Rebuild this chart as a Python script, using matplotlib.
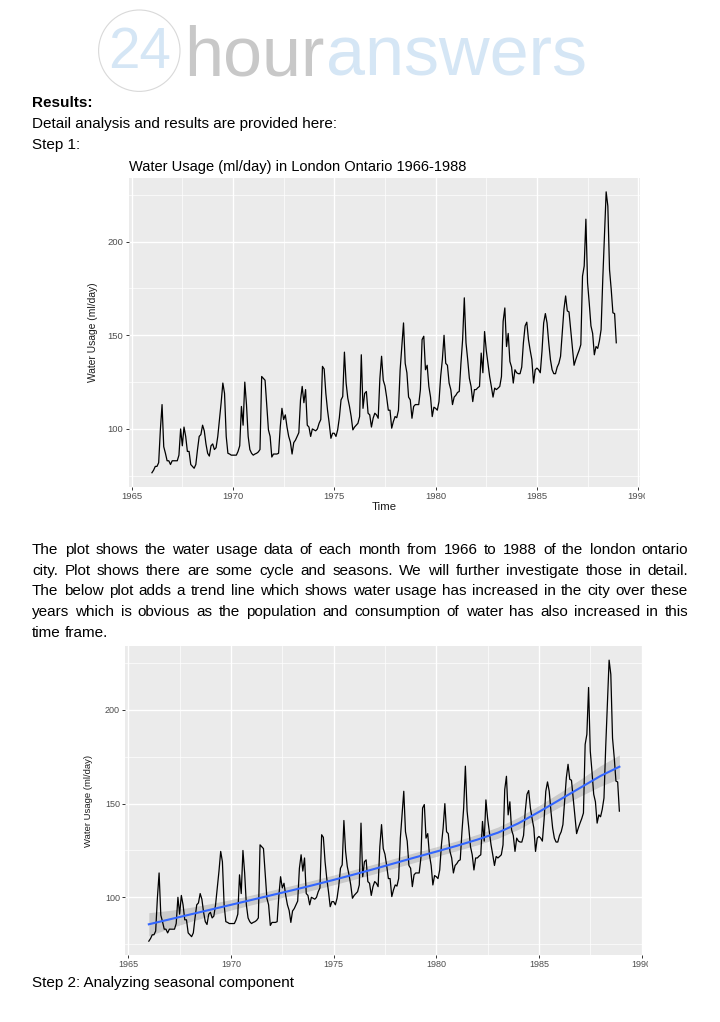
import numpy as np
import matplotlib
matplotlib.use("Agg")
import matplotlib.pyplot as plt
from matplotlib.patches import Circle, Rectangle
from matplotlib.ticker import MultipleLocator, FuncFormatter

plt.rcParams['font.family'] = ['Liberation Sans', 'DejaVu Sans']

W, H = 720, 1022

# monthly water usage (ml/day), London Ontario
usage_1966 = [76.6, 78.0, 80.0, 80.0, 82.0, 99.5, 113.0, 90.5, 87.0, 83.0, 83.0, 81.0]
usage_1967 = [83.0, 83.0, 83.0, 83.0, 86.0, 100.0, 91.0, 101.0, 96.0, 88.0, 88.0, 81.0]
usage_1968 = [80.0, 79.0, 81.0, 89.0, 96.0, 97.0, 102.0, 99.0, 92.0, 87.0, 85.5, 91.0]
usage_1969 = [92.0, 89.0, 90.0, 96.0, 105.0, 114.0, 124.5, 119.0, 96.0, 87.0, 86.6, 86.0]
usage_1970 = [86.0, 86.0, 86.0, 88.0, 91.0, 112.0, 102.0, 125.0, 113.0, 96.0, 89.0, 87.0]
usage_1971 = [86.0, 86.6, 87.0, 87.7, 89.0, 128.0, 127.0, 126.0, 113.0, 99.5, 96.0, 85.0]
usage_1972 = [86.6, 86.6, 86.6, 87.0, 101.0, 111.0, 105.0, 107.5, 101.0, 96.0, 93.0, 86.6]
usage_1973 = [92.7, 94.0, 96.0, 98.0, 115.5, 122.7, 114.0, 121.0, 102.0, 101.0, 96.0, 100.0]
usage_1974 = [99.5, 99.0, 100.0, 103.0, 105.0, 133.4, 132.0, 119.0, 110.0, 103.0, 95.0, 97.7]
usage_1975 = [97.7, 96.0, 99.5, 106.0, 115.5, 117.3, 141.0, 124.5, 116.4, 112.0, 106.6, 99.5]
usage_1976 = [101.0, 102.0, 103.0, 106.6, 139.6, 111.0, 119.0, 120.0, 108.4, 107.5, 101.0, 105.7]
usage_1977 = [108.4, 107.5, 105.7, 127.0, 138.8, 126.0, 123.0, 117.0, 110.0, 110.0, 100.4, 104.0]
usage_1978 = [106.6, 106.0, 110.0, 131.6, 144.0, 156.6, 135.0, 130.0, 117.0, 115.5, 105.7, 112.0]
usage_1979 = [113.0, 113.0, 113.0, 121.0, 147.7, 149.5, 131.6, 134.0, 122.7, 117.0, 106.6, 111.6]
usage_1980 = [111.0, 110.0, 114.6, 128.0, 137.0, 150.0, 135.0, 134.0, 124.5, 121.0, 113.0, 117.0]
usage_1981 = [118.0, 119.5, 120.0, 135.0, 147.7, 170.0, 146.0, 137.0, 127.0, 122.7, 114.6, 121.0]
usage_1982 = [121.0, 122.0, 122.7, 140.5, 130.0, 152.0, 142.0, 135.0, 128.0, 122.7, 117.0, 121.8]
usage_1983 = [121.0, 121.8, 122.7, 128.0, 157.5, 164.6, 144.0, 151.0, 136.0, 133.0, 124.5, 131.6]
usage_1984 = [130.0, 129.5, 129.5, 133.0, 146.0, 155.0, 157.0, 147.7, 142.0, 137.0, 124.5, 131.6]
usage_1985 = [132.5, 131.6, 130.0, 141.4, 156.6, 161.6, 156.6, 146.0, 137.0, 131.6, 129.5, 129.5]
usage_1986 = [133.0, 135.0, 138.8, 151.0, 163.8, 171.0, 163.0, 162.5, 153.0, 144.0, 134.0, 137.0]
usage_1987 = [139.6, 142.0, 145.0, 181.6, 187.0, 212.0, 178.0, 167.0, 155.0, 151.0, 139.6, 144.0]
usage_1988 = [143.0, 147.0, 153.0, 180.0, 203.0, 226.6, 219.0, 185.0, 174.5, 162.0, 161.6, 146.0]

usage = (usage_1966 + usage_1967 + usage_1968 + usage_1969 + usage_1970 + usage_1971
         + usage_1972 + usage_1973 + usage_1974 + usage_1975 + usage_1976 + usage_1977
         + usage_1978 + usage_1979 + usage_1980 + usage_1981 + usage_1982 + usage_1983
         + usage_1984 + usage_1985 + usage_1986 + usage_1987 + usage_1988)
months = 1966 + np.arange(len(usage)) / 12

# smoothed trend (blue) and its confidence half-width
trend_x = [1966, 1967, 1968, 1969, 1970, 1971, 1972, 1973, 1974, 1975, 1976, 1977,
           1978, 1979, 1980, 1981, 1982, 1983, 1984, 1985, 1986, 1987, 1988, 1988.917]
trend_y = [85.6, 88.2, 90.8, 93.4, 96.0, 98.6, 101.2, 103.8, 106.5, 109.3, 112.2, 115.2,
           118.3, 121.4, 124.4, 127.5, 130.8, 134.5, 139.5, 145.6, 152.0, 158.4, 164.8, 169.7]
trend_se = [6.2, 4.8, 3.8, 3.2, 2.8, 2.6, 2.6, 2.6, 2.6, 2.6, 2.6, 2.6,
            2.6, 2.6, 2.6, 2.6, 2.8, 3.0, 3.2, 3.4, 3.8, 4.5, 5.5, 6.3]

paragraph = [
    "The plot shows the water usage data of each month from 1966 to 1988 of the london ontario",
    "city. Plot shows there are some cycle and seasons. We will further investigate those in detail.",
    "The below plot adds a trend line which shows water usage has increased in the city over these",
    "years which is obvious as the population and consumption of water has also increased in this",
    "time frame.",
]

fig = plt.figure(figsize=(W / 100, H / 100), dpi=100)
fig.patch.set_facecolor('white')

# page overlay in pixel coordinates
bg = fig.add_axes([0, 0, 1, 1], zorder=0)
bg.set_xlim(0, W)
bg.set_ylim(H, 0)
bg.axis('off')
bg.patch.set_visible(False)


def px_axes(left, top, right, bottom):
    return fig.add_axes([left / W, 1 - bottom / H, (right - left) / W, (bottom - top) / H], zorder=1)


def expand(lo, hi, f=0.05):
    d = (hi - lo) * f
    return lo - d, hi + d


def gg_panel(ax, tick_size):
    ax.set_facecolor('#EBEBEB')
    for s in ax.spines.values():
        s.set_visible(False)
    ax.set_xlim(*expand(months[0], months[-1]))
    ax.set_ylim(*expand(min(usage), max(usage)))
    ax.xaxis.set_major_locator(MultipleLocator(5))
    ax.xaxis.set_minor_locator(MultipleLocator(2.5))
    ax.yaxis.set_major_locator(MultipleLocator(50))
    ax.yaxis.set_minor_locator(MultipleLocator(25))
    ax.xaxis.set_major_formatter(FuncFormatter(lambda v, p: f"{v:.0f}"))
    ax.yaxis.set_major_formatter(FuncFormatter(lambda v, p: f"{v:.0f}"))
    ax.grid(which='major', color='white', lw=1.0)
    ax.grid(which='minor', color='white', lw=0.5)
    ax.set_axisbelow(True)
    ax.tick_params(which='major', length=2.3, width=0.7, color='#333333',
                   labelsize=tick_size, labelcolor='#4D4D4D', pad=1.5)
    ax.tick_params(which='minor', length=0)


# logo
bg.add_patch(Circle((139.3, 50.7), 40.7, fill=False, edgecolor='#d9d9d9', lw=0.8))
bg.text(108, 68.3, "24", fontsize=40.8, color='#d5e6f5', va='baseline')
bg.text(184.5, 75, "hour", fontsize=50.5, color='#c8c8c8', va='baseline')
bg.text(326, 75, "answers", fontsize=50.5, color='#d5e6f5', va='baseline')

bg.text(32, 107.3, "Results:", fontsize=11, fontweight='bold', va='baseline')
bg.text(32, 128.3, "Detail analysis and results are provided here:", fontsize=11, va='baseline')
bg.text(32, 149.4, "Step 1:", fontsize=11, va='baseline')

# chart 1
ax1 = px_axes(128.7, 177.8, 639.5, 486.8)
gg_panel(ax1, 6.8)
ax1.plot(months, usage, color='black', lw=0.9)
bg.text(129.3, 171, "Water Usage (ml/day) in London Ontario 1966-1988", fontsize=10.5, va='baseline')
bg.text(93, 332, "Water Usage (ml/day)", fontsize=7.4, rotation=90, ha='center', va='center',
        color='#1a1a1a')
bg.text(384, 507, "Time", fontsize=8.2, ha='center', va='center', color='#1a1a1a')

# justified paragraph
renderer = fig.canvas.get_renderer()
base = 554.0
for i, line in enumerate(paragraph):
    y = base + i * 20.7
    words = line.split()
    texts = [bg.text(0, y, w, fontsize=11, va='baseline') for w in words]
    widths = [t.get_window_extent(renderer).width for t in texts]
    if i < len(paragraph) - 1:
        gap = (688 - 32 - sum(widths)) / (len(words) - 1)
    else:
        gap = bg.text(0, y, " ", fontsize=11, alpha=0).get_window_extent(renderer).width
    x = 32
    for t, w in zip(texts, widths):
        t.set_x(x)
        x += w + gap

# chart 2 with trend
ax2 = px_axes(125.3, 646.1, 642.9, 955.2)
gg_panel(ax2, 6.5)
ax2.plot(months, usage, color='black', lw=0.9)
lo = np.array(trend_y) - np.array(trend_se)
hi = np.array(trend_y) + np.array(trend_se)
ax2.fill_between(trend_x, lo, hi, color='#999999', alpha=0.4, lw=0)
ax2.plot(trend_x, trend_y, color='#3366FF', lw=1.5)
bg.text(88.5, 801, "Water Usage (ml/day)", fontsize=6.8, rotation=90, ha='center', va='center',
        color='#1a1a1a')

bg.text(32, 987, "Step 2: Analyzing seasonal component", fontsize=11, va='baseline')

# clipped right edge of the pasted chart images
fig.add_artist(Rectangle((645 / W, 1 - 502 / H), 1, 14 / H, transform=fig.transFigure,
                         facecolor='white', edgecolor='none', zorder=10))
fig.add_artist(Rectangle((648 / W, 1 - 970 / H), 1, 14 / H, transform=fig.transFigure,
                         facecolor='white', edgecolor='none', zorder=10))

fig.savefig('out.png', dpi=100)
